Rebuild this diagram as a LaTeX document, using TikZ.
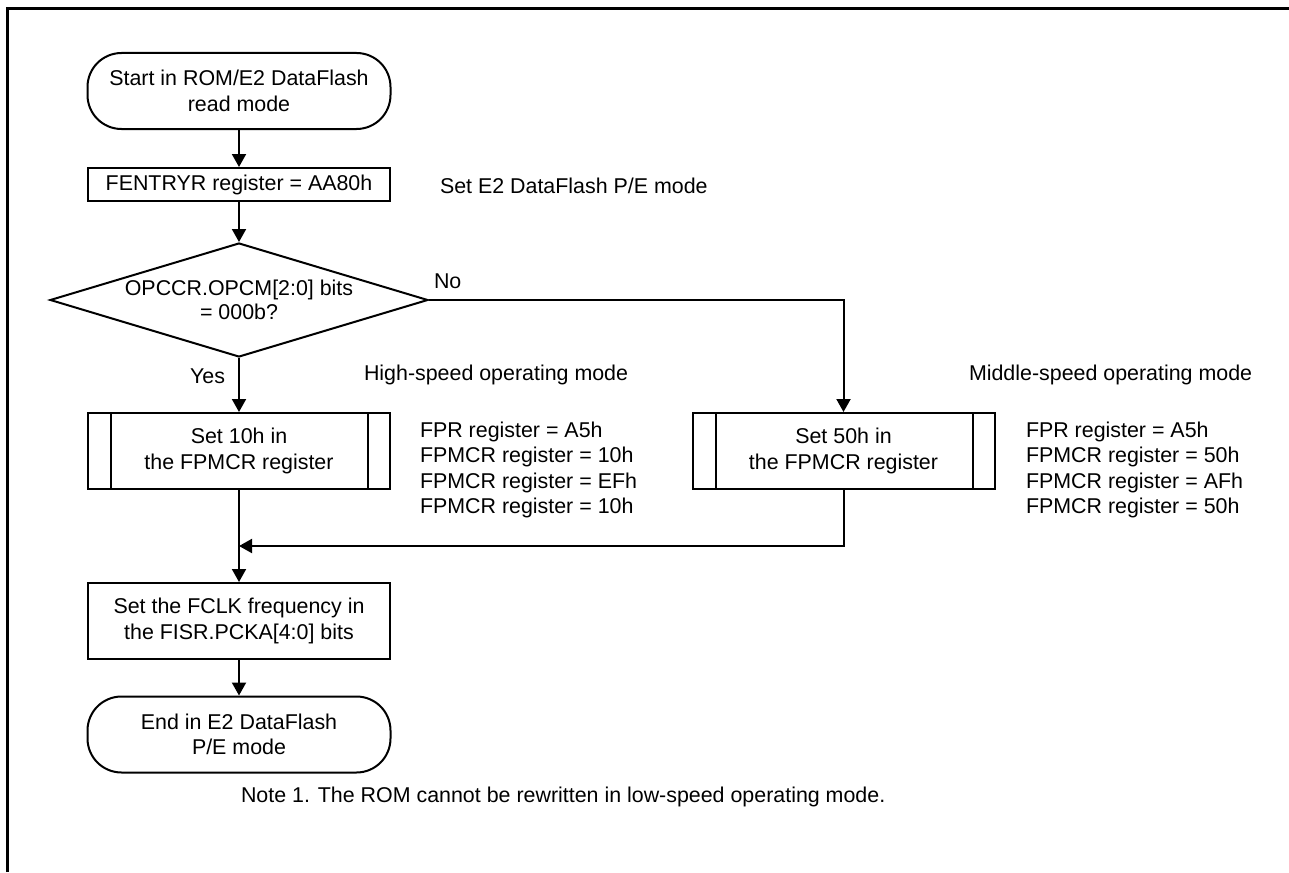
\documentclass[tikz,border=0pt]{standalone}
\usepackage{fontspec}
\setmainfont{Liberation Sans}
\usetikzlibrary{positioning,calc,shapes.geometric,arrows.meta}

\begin{document}
\begin{tikzpicture}[x=0.5pt,y=-0.5pt,font=\fontsize{10.7}{12.8}\selectfont,
  line width=1pt,>={Triangle[length=6.5pt,width=7pt]},
  term/.style={draw,rectangle,rounded corners=17pt,minimum width=151.5pt,minimum height=38pt,align=center,inner sep=0pt},
  proc/.style={draw,rectangle,minimum width=151pt,minimum height=38pt,align=center,inner sep=0pt},
  subproc/.style={proc,path picture={
    \draw ([xshift=11.5pt]path picture bounding box.north west) -- ([xshift=11.5pt]path picture bounding box.south west);
    \draw ([xshift=-11pt]path picture bounding box.north east) -- ([xshift=-11pt]path picture bounding box.south east);}},
  dec/.style={draw,diamond,aspect=3.3,inner sep=0pt,minimum width=189pt,minimum height=57pt,align=center},
  lbl/.style={anchor=west,align=left,inner sep=0pt}]
\useasboundingbox (0,0) rectangle (1289,872);
\draw[line width=1.7pt] (7.7,872) -- (7.7,8.3) -- (1289,8.3);
% main column
\node[term] (start) at (239,91) {Start in ROM/E2 DataFlash\\read mode};
\node[proc,minimum height=16.5pt] (entry) at (239,184.5) {FENTRYR register = AA80h};
\node[dec] (opcm) at (239,300) {OPCCR.OPCM[2:0] bits\\[-1pt]= 000b?};
\node[subproc] (hs) at (239,451) {Set 10h in\\the FPMCR register};
\node[subproc] (ms) at (843.5,451) {Set 50h in\\the FPMCR register};
\node[proc] (fclk) at (239,621) {Set the FCLK frequency in\\the FISR.PCKA[4:0] bits};
\node[term] (stop) at (239,734.5) {End in E2 DataFlash\\P/E mode};
\coordinate (join) at (239,546);
% labels
\node[lbl] (entrylbl) at (439,186) {Set E2 DataFlash P/E mode};
\node[lbl] (no) at (433,281) {No};
\node[lbl,anchor=east] (yes) at (226,376) {Yes};
\node[lbl] (hslbl) at (363,375) {High-speed operating mode};
\node[lbl] (mslbl) at (968,375) {Middle-speed operating mode};
\node[lbl] (hsregs) at (419,470) {FPR register = A5h\\FPMCR register = 10h\\FPMCR register = EFh\\FPMCR register = 10h};
\node[lbl] (msregs) at (1025,470) {FPR register = A5h\\FPMCR register = 50h\\FPMCR register = AFh\\FPMCR register = 50h};
\node[lbl] (note) at (240,797) {Note 1. The ROM cannot be rewritten in low-speed operating mode.};
% connectors
\draw[->] (start) -- (entry);
\draw[->] (entry) -- (opcm);
\draw[->] (opcm) -- (hs);
\draw[->] (opcm.east) -| (ms.north);
\draw[->] (hs) -- (fclk);
\draw[->] (ms.south) |- (join);
\draw[->] (fclk) -- (stop);
\end{tikzpicture}
\end{document}
